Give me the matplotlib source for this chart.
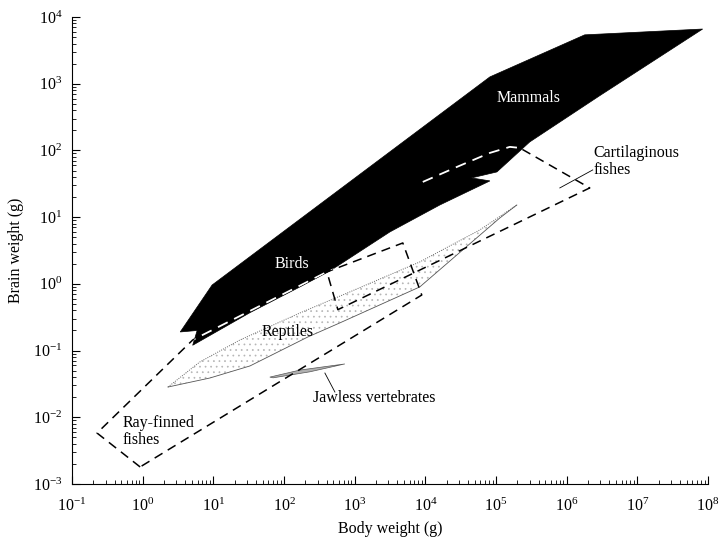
import matplotlib
matplotlib.use("Agg")
import matplotlib.pyplot as plt
from matplotlib.patches import Polygon
import numpy as np

plt.rcParams['font.family'] = ['Liberation Serif', 'DejaVu Serif']
plt.rcParams['mathtext.fontset'] = 'stix'
plt.rcParams['hatch.linewidth'] = 0.5

# outlines: body weight (g), brain weight (g)
mammals_birds_body = [3.4, 9.6, 8.2e4, 1.8e6, 8.4e7, 2.9e6, 3.0e5, 1.03e5, 4.5e4,
                      8.2e4, 1.6e4, 3150, 446, 168, 33, 5.1, 5.9]
mammals_birds_brain = [0.19, 0.96, 1265, 5400, 6600, 656, 134, 47.6, 38.7,
                       34.9, 15.2, 6.0, 1.56, 0.90, 0.37, 0.12, 0.20]

ray_finned_body = [0.92, 0.226, 5.1, 405, 4800, 8900, 0.92]
ray_finned_brain = [1.8e-3, 5.8e-3, 0.144, 1.51, 4.1, 0.68, 1.8e-3]

cartilaginous_body = [9200, 2.8e4, 8.2e4, 1.57e5, 2.17e5, 2.12e6, 578, 405]
cartilaginous_brain = [33.7, 56.6, 91.8, 113, 109, 27.4, 0.41, 1.51]

# upper (dotted) edge then lower (solid) edge
reptiles_top_body = [2.28, 6.45, 23.8, 168, 855, 8350, 5.9e4, 1.97e5]
reptiles_top_brain = [0.0284, 0.0675, 0.144, 0.366, 0.757, 2.13, 6.43, 15.2]
reptiles_low_body = [1.97e5, 1.13e5, 8350, 618, 218, 33, 8.95, 2.28]
reptiles_low_brain = [15.2, 9.7, 0.90, 0.26, 0.16, 0.0588, 0.0388, 0.0284]

jawless_body = [63, 168, 726, 232, 70]
jawless_brain = [0.040, 0.051, 0.063, 0.048, 0.039]

x_ticks = [1e-1, 1e0, 1e1, 1e2, 1e3, 1e4, 1e5, 1e6, 1e7, 1e8]
y_ticks = [1e-3, 1e-2, 1e-1, 1e0, 1e1, 1e2, 1e3, 1e4]

fig = plt.figure(figsize=(7.26, 5.43), dpi=100)
ax = fig.add_axes([0.0992, 0.1087, 0.876, 0.86])
ax.set_xscale('log')
ax.set_yscale('log')
ax.set_xlim(1e-1, 1e8)
ax.set_ylim(1e-3, 1e4)

# reptiles, stippled
rep_xy = np.column_stack([reptiles_top_body + reptiles_low_body[1:-1],
                          reptiles_top_brain + reptiles_low_brain[1:-1]])
rep = Polygon(rep_xy, closed=True, facecolor='none', edgecolor='#b5b5b5',
              hatch='...', lw=0, zorder=1)
ax.add_patch(rep)
ax.plot(reptiles_top_body, reptiles_top_brain, color='#666666', lw=0.7,
        ls=(0, (1, 1.3)), zorder=1)
ax.plot(reptiles_low_body, reptiles_low_brain, color='#555555', lw=0.6, zorder=1)

# jawless vertebrates
jaw = Polygon(np.column_stack([jawless_body, jawless_brain]), closed=True,
              facecolor='#b0b0b0', edgecolor='#555555', lw=0.5, zorder=1)
ax.add_patch(jaw)

# mammals and birds, solid black
mb = Polygon(np.column_stack([mammals_birds_body, mammals_birds_brain]), closed=True,
             facecolor='black', edgecolor='black', lw=0.5, zorder=2)
ax.add_patch(mb)

dash = (0, (6, 4))
for xs, ys in [(ray_finned_body, ray_finned_brain),
               (cartilaginous_body, cartilaginous_brain)]:
    ax.plot(xs, ys, color='black', lw=1.1, ls=dash, zorder=3)
    # white where the dashes run over the black region
    ln, = ax.plot(xs, ys, color='white', lw=1.3, ls=dash, zorder=4)
    ln.set_clip_path(mb)

# labels
ax.text(2.9e5, 612, 'Mammals', color='white', fontsize=11.5, ha='center', va='center', zorder=5)
ax.text(129, 1.99, 'Birds', color='white', fontsize=11.5, ha='center', va='center', zorder=5)
ax.text(113, 0.19, 'Reptiles', color='black', fontsize=11.5, ha='center', va='center', zorder=5)
ax.text(256, 0.0195, 'Jawless vertebrates', fontsize=11.5, ha='left', va='center', zorder=5)
ax.plot([379, 525], [0.046, 0.0239], color='black', lw=0.6, zorder=5)
ax.text(0.526, 6.1e-3, 'Ray-finned\nfishes', fontsize=11.5, ha='left', va='center',
        linespacing=1.1, zorder=5)
ax.text(2.4e6, 68, 'Cartilaginous\nfishes', fontsize=11.5, ha='left', va='center',
        linespacing=1.1, zorder=5)
ax.plot([2.34e6, 8.0e5], [51, 27.4], color='black', lw=0.6, zorder=5)

ax.set_xlabel('Body weight (g)', fontsize=11.5, labelpad=4)
ax.set_ylabel('Brain weight (g)', fontsize=11.5, labelpad=6)

ax.spines['top'].set_visible(False)
ax.spines['right'].set_visible(False)
ax.xaxis.set_major_locator(matplotlib.ticker.FixedLocator(x_ticks))
ax.yaxis.set_major_locator(matplotlib.ticker.FixedLocator(y_ticks))
ax.xaxis.set_major_formatter(matplotlib.ticker.LogFormatterSciNotation())
ax.yaxis.set_major_formatter(matplotlib.ticker.LogFormatterSciNotation())
minor_x = [m * t for t in x_ticks[:-1] for m in range(2, 10)]
minor_y = [m * t for t in y_ticks[:-1] for m in range(2, 10)]
ax.xaxis.set_minor_locator(matplotlib.ticker.FixedLocator(minor_x))
ax.yaxis.set_minor_locator(matplotlib.ticker.FixedLocator(minor_y))
ax.xaxis.set_minor_formatter(matplotlib.ticker.NullFormatter())
ax.yaxis.set_minor_formatter(matplotlib.ticker.NullFormatter())
ax.tick_params(which='major', direction='in', length=6, width=0.8, labelsize=11.5)
ax.tick_params(which='minor', direction='in', length=3, width=0.6)
ax.tick_params(axis='x', which='major', pad=10)
ax.tick_params(axis='y', which='major', pad=7)

fig.savefig('out.png', dpi=100)
